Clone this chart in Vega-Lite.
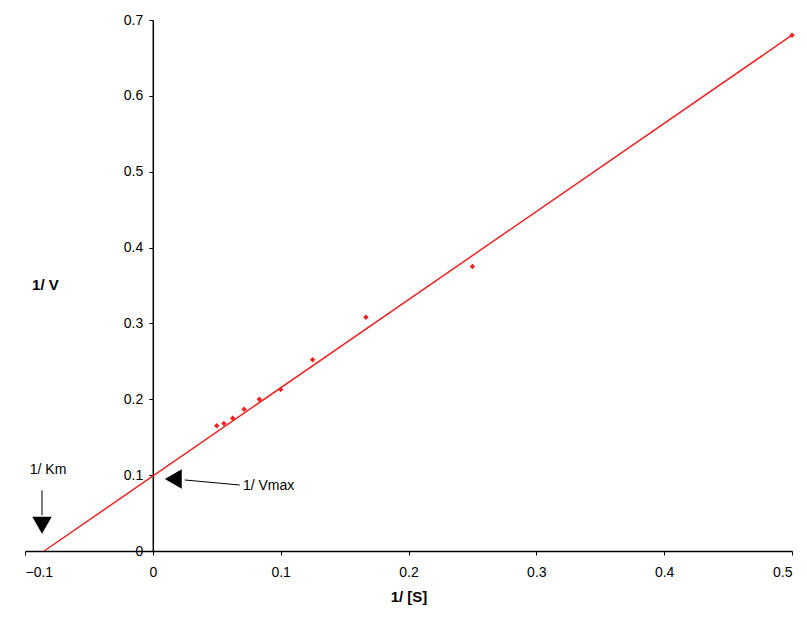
{
  "$schema": "https://vega.github.io/schema/vega-lite/v6.json",
  "width": 767,
  "height": 531,
  "autosize": "none",
  "padding": {"left": 25, "top": 20, "right": 15, "bottom": 75},
  "background": "white",
  "config": {
    "view": {"stroke": null},
    "font": "Liberation Sans"
  },
  "datasets": {
    "points": [
      {"s": 0.05, "v": 0.165},
      {"s": 0.0556, "v": 0.168},
      {"s": 0.0625, "v": 0.175},
      {"s": 0.0714, "v": 0.187},
      {"s": 0.0833, "v": 0.2},
      {"s": 0.1, "v": 0.213},
      {"s": 0.125, "v": 0.252},
      {"s": 0.1667, "v": 0.308},
      {"s": 0.25, "v": 0.375},
      {"s": 0.5, "v": 0.68}
    ],
    "fit": [{"s": -0.085, "v": 0}, {"s": 0.5, "v": 0.68}]
  },
  "layer": [
    {
      "data": {"name": "fit"},
      "mark": {"type": "line", "color": "#ee2222", "strokeWidth": 1.5},
      "encoding": {
        "x": {"field": "s", "type": "quantitative", "scale": {"domain": [-0.1, 0.5], "nice": false},
          "axis": {"title": "1/ [S]", "titleFontSize": 15, "titleFontWeight": "bold", "titlePadding": 10, "titleColor": "black",
            "values": [-0.1, 0, 0.1, 0.2, 0.3, 0.4, 0.5], "format": "~g", "labelPadding": 10, "labelFontSize": 14, "labelColor": "black",
            "grid": false, "domainColor": "black", "domainWidth": 1.5, "tickColor": "black", "tickSize": 4}},
        "y": {"field": "v", "type": "quantitative", "scale": {"domain": [0, 0.7], "nice": false},
          "axis": {"title": null, "offset": -127.8, "values": [0, 0.1, 0.2, 0.3, 0.4, 0.5, 0.6, 0.7], "format": "~g", "labelPadding": 6,
            "labelFontSize": 14, "labelColor": "black", "grid": false, "domainColor": "black", "domainWidth": 1.5, "tickColor": "black", "tickSize": 4}}
      }
    },
    {
      "data": {"name": "points"},
      "mark": {"type": "point", "shape": "diamond", "filled": true, "color": "#ee2222", "size": 30, "opacity": 1},
      "encoding": {
        "x": {"field": "s", "type": "quantitative"},
        "y": {"field": "v", "type": "quantitative"}
      }
    },
    {
      "data": {"values": [
        {"x": -0.0867, "y": 0.08, "x2": -0.0867, "y2": 0.047},
        {"x": 0.025, "y": 0.0936, "x2": 0.068, "y2": 0.087}
      ]},
      "mark": {"type": "rule", "color": "black", "strokeWidth": 1},
      "encoding": {
        "x": {"field": "x", "type": "quantitative"},
        "y": {"field": "y", "type": "quantitative"},
        "x2": {"field": "x2"},
        "y2": {"field": "y2"}
      }
    },
    {
      "data": {"values": [{"x": -0.0867, "y": 0.034}]},
      "mark": {"type": "point", "shape": "triangle-down", "filled": true, "color": "black", "size": 380, "opacity": 1},
      "encoding": {
        "x": {"field": "x", "type": "quantitative"},
        "y": {"field": "y", "type": "quantitative"}
      }
    },
    {
      "data": {"values": [{"x": 0.016, "y": 0.095}]},
      "mark": {"type": "point", "shape": "triangle-left", "filled": true, "color": "black", "size": 380, "opacity": 1},
      "encoding": {
        "x": {"field": "x", "type": "quantitative"},
        "y": {"field": "y", "type": "quantitative"}
      }
    },
    {
      "data": {"values": [
        {"x": -0.082, "y": 0.107, "t": "1/ Km"}
      ]},
      "mark": {"type": "text", "fontSize": 14, "color": "black", "baseline": "middle", "align": "center"},
      "encoding": {
        "x": {"field": "x", "type": "quantitative"},
        "y": {"field": "y", "type": "quantitative"},
        "text": {"field": "t"}
      }
    },
    {
      "data": {"values": [
        {"x": 0.0705, "y": 0.0857, "t": "1/ Vmax"}
      ]},
      "mark": {"type": "text", "fontSize": 14, "color": "black", "baseline": "middle", "align": "left"},
      "encoding": {
        "x": {"field": "x", "type": "quantitative"},
        "y": {"field": "y", "type": "quantitative"},
        "text": {"field": "t"}
      }
    },
    {
      "data": {"values": [
        {"x": -0.084, "y": 0.351, "t": "1/ V"}
      ]},
      "mark": {"type": "text", "fontSize": 15, "fontWeight": "bold", "color": "black", "baseline": "middle", "align": "center"},
      "encoding": {
        "x": {"field": "x", "type": "quantitative"},
        "y": {"field": "y", "type": "quantitative"},
        "text": {"field": "t"}
      }
    }
  ]
}
